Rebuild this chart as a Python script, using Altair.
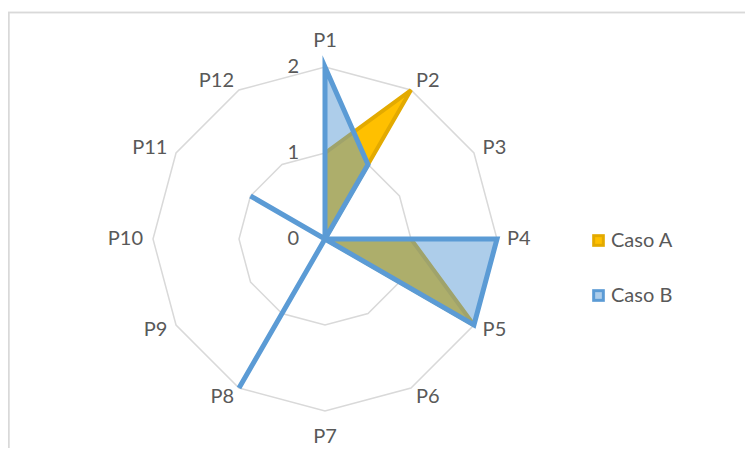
import altair as alt
import pandas as pd

categories = ["P1", "P2", "P3", "P4", "P5", "P6", "P7", "P8", "P9", "P10", "P11", "P12"]
series_names = ["Caso A", "Caso B"]
caso_a = [1, 2, 0, 1, 2, 0, 0, 0, 0, 0, 0, 0]
caso_b = [2, 1, 0, 2, 2, 0, 0, 2, 0, 0, 1, 0]
grid_levels = [1, 2]
level_ticks = [0, 1, 2]
level_labels = ["0", "1", "2"]

W, H = 737, 440
CX, CY, UNIT = 317, 231, 86.0
xdom = [-CX / UNIT, (W - CX) / UNIT]
ydom = [-(H - CY) / UNIT, CY / UNIT]

FONT = "Lato"
FS = 20
TXT = "#595959"

def xenc(f="x"):
    return alt.X(f + ":Q", scale=alt.Scale(domain=xdom, nice=False, zero=False), axis=None)

def yenc(f="y"):
    return alt.Y(f + ":Q", scale=alt.Scale(domain=ydom, nice=False, zero=False), axis=None)

n = len(categories)
ser_df = pd.DataFrame(
    [{"series": series_names[0], "idx": i, "value": v} for i, v in enumerate(caso_a)]
    + [{"series": series_names[1], "idx": i, "value": v} for i, v in enumerate(caso_b)]
)
grid_df = pd.DataFrame([{"level": lv, "idx": i} for lv in grid_levels for i in range(n)])
cat_df = pd.DataFrame({"cat": categories, "idx": list(range(n))})
lvl_df = pd.DataFrame({"level": level_ticks, "lab": level_labels})

ang = f"datum.idx * 2 * PI / {n}"

base_grid = alt.Chart(grid_df).transform_calculate(
    x=f"datum.level * sin({ang})", y=f"datum.level * cos({ang})"
)
grid = base_grid.mark_line(
    interpolate="linear-closed", stroke="#D9D9D9", strokeWidth=1.5
).encode(x=xenc(), y=yenc(), detail="level:N", order="idx:Q")

def series_layer(name, fill, fill_op, stroke, sw, ml):
    return alt.Chart(ser_df).transform_filter(
        alt.datum.series == name
    ).transform_calculate(
        x=f"datum.value * sin({ang})", y=f"datum.value * cos({ang})"
    ).mark_line(
        interpolate="linear-closed", fill=fill, fillOpacity=fill_op,
        stroke=stroke, strokeWidth=sw, strokeJoin="miter", strokeMiterLimit=ml
    ).encode(x=xenc(), y=yenc(), order="idx:Q")

layer_a = series_layer("Caso A", "#FFC000", 1.0, "#E3AA00", 4, 3)
layer_b = series_layer("Caso B", "#5B9BD5", 0.5, "#5B9BD5", 5, 20)

lab_base = alt.Chart(cat_df).transform_calculate(
    r=f"datum.idx % 6 == 0 ? 2 + 26 / {UNIT} : 2 + 10 / {UNIT}"
).transform_calculate(
    x=f"datum.r * sin({ang})", y=f"datum.r * cos({ang})"
)
lab_left = lab_base.transform_filter("datum.idx >= 1 && datum.idx <= 5").mark_text(
    align="left", baseline="middle", font=FONT, fontSize=FS, color=TXT
).encode(x=xenc(), y=yenc(), text="cat:N")
lab_center = lab_base.transform_filter("datum.idx % 6 == 0").mark_text(
    align="center", baseline="middle", font=FONT, fontSize=FS, color=TXT
).encode(x=xenc(), y=yenc(), text="cat:N")
lab_right = lab_base.transform_filter("datum.idx >= 7").mark_text(
    align="right", baseline="middle", font=FONT, fontSize=FS, color=TXT
).encode(x=xenc(), y=yenc(), text="cat:N")

lvl = alt.Chart(lvl_df).transform_calculate(
    x=f"-26 / {UNIT}", y="datum.level"
).mark_text(
    align="right", baseline="middle", font=FONT, fontSize=FS, color=TXT
).encode(x=xenc(), y=yenc(), text="lab:N")

leg_df = pd.DataFrame({"series": series_names})
legend_layers = []
leg_style = [("#E3AA00", "#FFC000", 232), ("#5B9BD5", "#ADCDEA", 287)]
for name, (outer, inner, py) in zip(series_names, leg_style):
    d = alt.Chart(leg_df).transform_filter(alt.datum.series == name)
    legend_layers.append(
        d.mark_square(size=160, color=outer, opacity=1).encode(x=alt.value(590.5), y=alt.value(py + 0.5))
    )
    legend_layers.append(
        d.mark_square(size=45, color=inner, opacity=1).encode(x=alt.value(590.5), y=alt.value(py + 0.5))
    )
    legend_layers.append(
        d.mark_text(align="left", baseline="middle", font=FONT, fontSize=FS, color=TXT).encode(
            x=alt.value(603), y=alt.value(py + 1), text="series:N"
        )
    )

frame_top = alt.Chart(leg_df).mark_rule(color="#D9D9D9", strokeWidth=1.5).encode(
    x=alt.value(0), x2=alt.value(W), y=alt.value(4.5)
)
frame_left = alt.Chart(leg_df).mark_rule(color="#D9D9D9", strokeWidth=1.5).encode(
    x=alt.value(0.75), y=alt.value(4.5), y2=alt.value(H)
)

chart = alt.layer(
    frame_top, frame_left, grid, layer_a, layer_b, lab_left, lab_center, lab_right, lvl, *legend_layers
).properties(
    width=W, height=H, padding=0, autosize=alt.AutoSizeParams(type="none")
).configure_view(stroke=None)

chart.save("out.html", embed_options={"renderer": "svg", "actions": False})
